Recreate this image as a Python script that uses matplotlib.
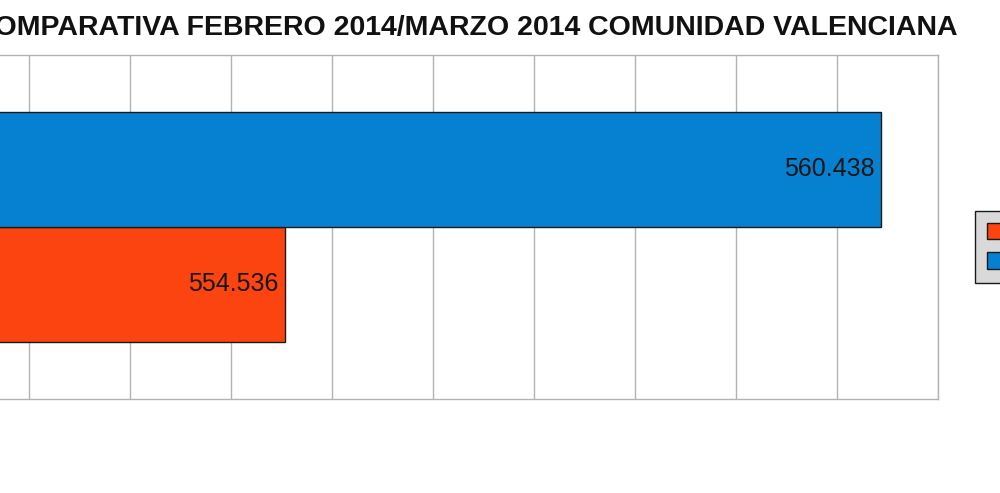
import matplotlib

matplotlib.use("Agg")
import matplotlib.pyplot as plt
from matplotlib.patches import Patch

# chart data
SERIES = ["FEBRERO 2014", "MARZO 2014"]
VALUES = [554536, 560438]
COLORS = ["#fc4410", "#0681d1"]
TITLE = "COMPARATIVA FEBRERO 2014/MARZO 2014 COMUNIDAD VALENCIANA"

X_MIN, X_MAX, X_STEP = 551000, 561000, 1000

plt.rcParams["font.family"] = ["Liberation Sans", "DejaVu Sans"]

fig = plt.figure(figsize=(10, 4.93), dpi=100)
# plot area extends past the left edge of the picture (cropped original)
ax = fig.add_axes([-0.072, 0.1907, 1.010, 0.6978])

bar_h = 0.6686
ypos = [-bar_h / 2, bar_h / 2]
for y, v, c in zip(ypos, VALUES, COLORS):
    ax.barh(y, v, height=bar_h, color=c, edgecolor="#1a1a1a", linewidth=1.0,
            zorder=3)
    ax.text(v - 70, y, f"{v:,}".replace(",", "."), ha="right", va="center",
            fontsize=18, color="#161616", zorder=4)

ax.set_xlim(X_MIN, X_MAX)
ax.set_ylim(-1, 1)
ax.set_xticks(range(X_MIN, X_MAX + 1, X_STEP))
ax.set_yticks([])
ax.tick_params(axis="x", length=0, labelbottom=False)
ax.grid(axis="x", color="#b3b3b3", linewidth=1.0, zorder=0)
for s in ax.spines.values():
    s.set_color("#b3b3b3")
    s.set_linewidth(1.0)

fig.text(0.958, 1 - 28 / 493, TITLE, ha="right", va="center",
         fontsize=20.5, fontweight="bold", color="#111111")

handles = [Patch(facecolor=c, edgecolor="#1a1a1a", linewidth=1.0) for c in COLORS]
leg = fig.legend(handles, SERIES, loc="upper left",
                 bbox_to_anchor=(0.975, 1 - 211 / 493),
                 bbox_transform=fig.transFigure, borderaxespad=0,
                 fontsize=14, handlelength=1.0, handleheight=0.95,
                 labelspacing=0.55, borderpad=0.6, fancybox=False,
                 framealpha=1, facecolor="#d9d9d9", edgecolor="#1a1a1a")
leg.get_frame().set_linewidth(1.0)

fig.savefig("out.png", dpi=100)
